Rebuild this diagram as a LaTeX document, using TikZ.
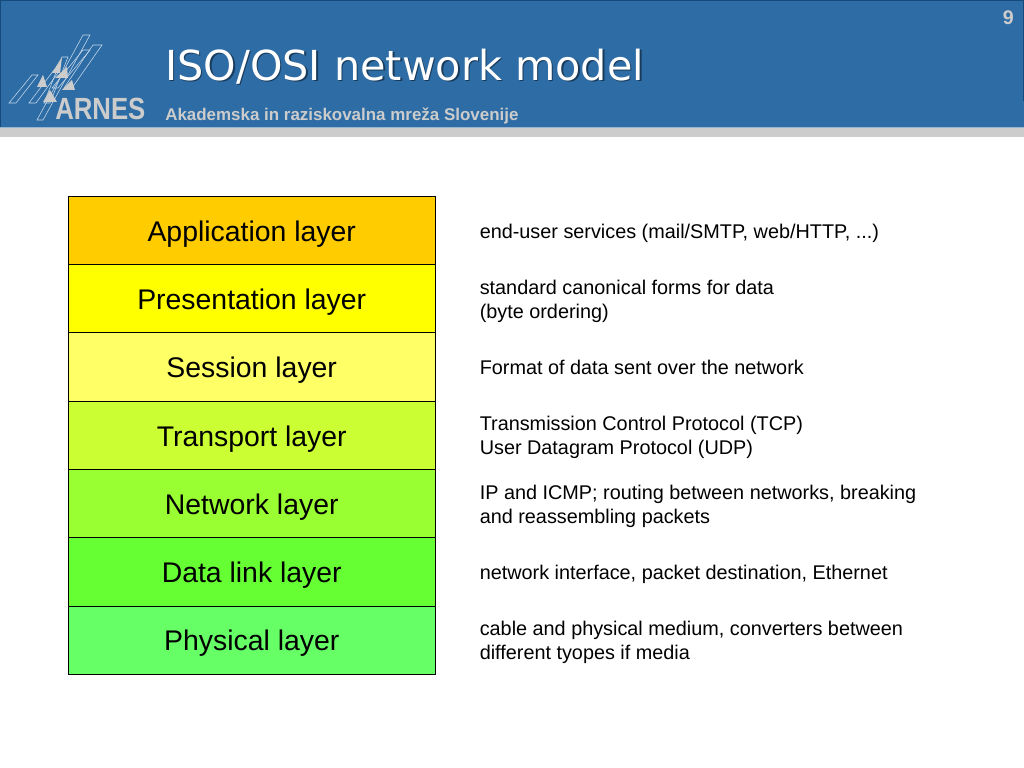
\documentclass[tikz,border=0pt]{standalone}
\usepackage{fontspec}
\usepackage{graphicx}
\setmainfont{Liberation Sans}
\newfontfamily\titlefont{DejaVu Sans}
\usetikzlibrary{positioning}
\definecolor{banner}{HTML}{2D6CA5}
\definecolor{bannerdark}{HTML}{164A7C}
\definecolor{bandgrey}{HTML}{CCCCCC}
\definecolor{logoline}{HTML}{C5D8EA}

\begin{document}
\begin{tikzpicture}[x=0.025cm,y=-0.025cm,auto,node distance=1.7075cm]
        \tikzstyle{layerbox} = [draw, inner sep=0pt, minimum height=1.7075cm, minimum width=9.175cm, text height=15.6pt, text depth=0pt, font=\fontsize{20.2}{24}\selectfont]
        \tikzstyle{note} = [anchor=west, align=left, inner sep=0pt, font=\fontsize{14.1}{17.1}\selectfont]
        \tikzstyle{bar} = [draw=logoline, line width=0.4pt]

        \useasboundingbox (0,0) rectangle (1024,768);
        % header
        \fill [banner] (0,0) rectangle (1024,127);
        \fill [bandgrey] (0,127) rectangle (1024,137);
        \draw [bannerdark, line width=0.7pt] (0,0.5) -- (1024,0.5);
        \draw [bannerdark, line width=0.7pt] (0.5,0) -- (0.5,127);
        \draw [bannerdark, line width=0.7pt] (1023.5,0) -- (1023.5,101);
        \draw [white!50!banner, line width=0.7pt] (0,127) -- (1024,127);

        % logo
        \foreach \xa/\xb/\ya/\xc/\xd/\yb in {9/16/103/38/32/75, 29/36/103/60/54/70, 37/43/120/90/83/35, 44/50/103/68/62/57, 64/72/88/102/93/45, 52/58/88/90/83/50}
            \draw [bar] (\xa,\ya) -- (\xb,\ya) -- (\xc,\yb) -- (\xd,\yb) -- cycle;
        \foreach \xa/\ya/\xb/\yb/\xc in {37/87/43/75/47, 52/73/62/57/60, 55/78/67/67/68, 62/90/72/80/75, 43/102/50/90/57}
            \fill [bandgrey] (\xa,\ya) -- (\xb,\yb) -- (\xc,\ya) -- cycle;
        \node [anchor=south west, inner sep=0pt, text depth=0pt, text=bandgrey, font=\fontsize{21.8}{24}\selectfont\bfseries] (logo) at (55,120) {\scalebox{0.84}[1]{ARNES}};

        % title
        \node [anchor=west, inner sep=0pt, text=black!45!banner, font=\titlefont\fontsize{29.4}{34}\selectfont] (titleshadow) at (166.5,68) {ISO/OSI network model};
        \node [anchor=west, inner sep=0pt, text=white, font=\titlefont\fontsize{29.4}{34}\selectfont] (title) at (165,67) {ISO/OSI network model};
        \node [anchor=west, inner sep=0pt, text=bandgrey, font=\fontsize{12.05}{14}\selectfont\bfseries] (subtitle) at (165,116) {Akademska in raziskovalna mre\v{z}a Slovenije};
        \node [anchor=east, inner sep=0pt, text=bandgrey, font=\fontsize{14}{16}\selectfont\bfseries] (page) at (1014,18) {9};

        % layers
        \node [layerbox, fill={rgb,255:red,255;green,204;blue,0}] (app) at (251.75,230.1) {Application layer};
        \node [layerbox, fill={rgb,255:red,255;green,255;blue,0}, below of=app] (pres) {Presentation layer};
        \node [layerbox, fill={rgb,255:red,255;green,255;blue,102}, below of=pres] (sess) {Session layer};
        \node [layerbox, fill={rgb,255:red,204;green,255;blue,51}, below of=sess] (trans) {Transport layer};
        \node [layerbox, fill={rgb,255:red,153;green,255;blue,51}, below of=trans] (net) {Network layer};
        \node [layerbox, fill={rgb,255:red,102;green,255;blue,51}, below of=net] (link) {Data link layer};
        \node [layerbox, fill={rgb,255:red,102;green,255;blue,102}, below of=link] (phys) {Physical layer};

        % descriptions
        \node [note] (appnote) at (479.5,233) {end-user services (mail/SMTP, web/HTTP, ...)};
        \node [note] (presnote) at (479.5,301) {standard canonical forms for data\\(byte ordering)};
        \node [note] (sessnote) at (479.5,367) {Format of data sent over the network};
        \node [note] (transnote) at (479.5,437) {Transmission Control Protocol (TCP)\\User Datagram Protocol (UDP)};
        \node [note] (netnote) at (479.5,506) {IP and ICMP; routing between networks, breaking\\and reassembling packets};
        \node [note] (linknote) at (479.5,574) {network interface, packet destination, Ethernet};
        \node [note] (physnote) at (479.5,642.5) {cable and physical medium, converters between\\different tyopes if media};
    \end{tikzpicture}
\end{document}
